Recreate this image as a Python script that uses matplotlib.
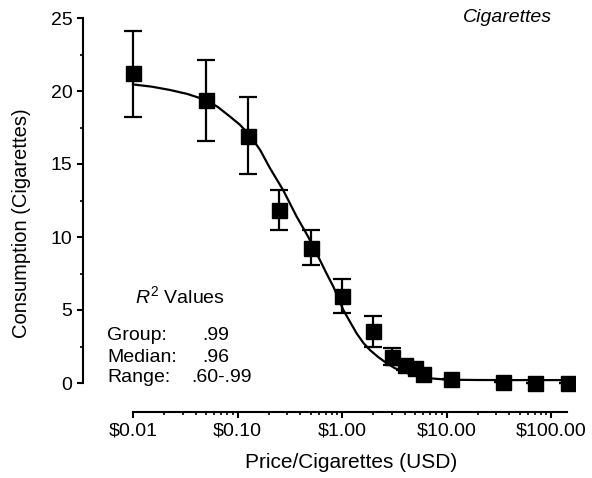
import numpy as np
import matplotlib
matplotlib.use("Agg")
import matplotlib.pyplot as plt

plt.rcParams['font.family'] = ['Liberation Sans', 'DejaVu Sans']
plt.rcParams['mathtext.fontset'] = 'custom'
plt.rcParams['mathtext.rm'] = 'Liberation Sans'
plt.rcParams['mathtext.it'] = 'Liberation Sans:italic'

# observed consumption (mean +/- error) at each price
price = [0.01, 0.05, 0.125, 0.25, 0.5, 1.0, 2.0, 3.0, 4.0, 5.0, 6.0, 11.0, 35.0, 70.0, 145.0]
consumption = [21.2, 19.35, 16.95, 11.85, 9.25, 5.95, 3.55, 1.8, 1.2, 1.0, 0.65, 0.27, 0.05, 0.02, 0.0]
err_up = [2.9, 2.75, 2.65, 1.35, 1.25, 1.15, 1.05, 0.6, 0.3, 0.2, 0.1, 0.0, 0.0, 0.0, 0.0]
err_down = [2.95, 2.75, 2.65, 1.35, 1.15, 1.15, 1.05, 0.6, 0.3, 0.2, 0.1, 0.0, 0.0, 0.0, 0.0]

# fitted demand curve
curve_x = [0.01, 0.015, 0.0226, 0.033, 0.05, 0.065, 0.085, 0.105, 0.132, 0.165,
           0.205, 0.274, 0.368, 0.476, 0.593, 0.7, 0.826, 1.03, 1.18, 1.38,
           1.6, 1.85, 2.2, 2.68, 3.2, 3.87, 4.6, 5.57, 7.0, 9.3,
           12, 20, 40, 148]
curve_y = [20.45, 20.3, 20.07, 19.8, 19.38, 18.9, 18.24, 17.7, 16.95, 15.95,
           14.7, 13.2, 11.4, 10.0, 8.65, 7.6, 6.6, 5.0, 4.25, 3.4,
           2.75, 2.26, 1.8, 1.35, 1.02, 0.77, 0.58, 0.43, 0.32, 0.25,
           0.22, 0.205, 0.2, 0.2]

xtick_vals = [0.01, 0.1, 1, 10, 100]
xtick_labels = [r"\$0.01", r"\$0.10", r"\$1.00", r"\$10.00", r"\$100.00"]

stats_names = ["Group:", "Median:", "Range:"]
stats_vals = [".99", ".96", ".60-.99"]

fig = plt.figure(figsize=(5.92, 4.78), dpi=100)
ax = fig.add_axes([83 / 592, 66 / 478, 492 / 592, 402 / 478])

ax.plot(curve_x, curve_y, color='black', lw=1.6, zorder=2)
ax.errorbar(price, consumption, yerr=[err_down, err_up], fmt='s', color='black',
            ms=10.8, elinewidth=1.6, capsize=6.5, capthick=1.6, zorder=3)

ax.set_xscale('log')
ax.set_xlim(10 ** (-2 - 50 / 104.5), 10 ** (-2 + 442 / 104.5))
ax.set_ylim((383 - 412) / 14.6, (383 - 10) / 14.6)

for s in ['top', 'right']:
    ax.spines[s].set_visible(False)
ax.spines['left'].set_bounds(0, 25)
ax.spines['bottom'].set_bounds(0.01, 142)
for s in ['left', 'bottom']:
    ax.spines[s].set_linewidth(1.5)

ax.set_yticks([0, 5, 10, 15, 20, 25])
ax.set_yticks([2.5, 7.5, 12.5, 17.5, 22.5], minor=True)
ax.set_xticks(xtick_vals)
ax.set_xticklabels(xtick_labels)
minor = [m * 10.0 ** d for d in range(-2, 3) for m in range(2, 10) if m * 10.0 ** d <= 142]
ax.set_xticks(minor, minor=True)
ax.xaxis.set_minor_formatter(plt.NullFormatter())

ax.tick_params(which='major', direction='out', length=4.5, width=1.5, labelsize=14, pad=3)
ax.tick_params(which='minor', direction='out', length=2.5, width=1.2)

ax.set_xlabel("Price/Cigarettes (USD)", fontsize=15)
ax.set_ylabel("Consumption (Cigarettes)", fontsize=14.5)
ax.xaxis.label.set_va('center')
ax.yaxis.label.set_va('center')
ax.xaxis.set_label_coords((351 - 83) / 492, (412 - 463) / 402)
ax.yaxis.set_label_coords((22 - 83) / 492, (412 - 223) / 402)

ax.text(0.953, (412 - 17) / 402, "Cigarettes", transform=ax.transAxes, ha='right', va='center',
        fontsize=14, style='italic')
ax.text((135 - 83) / 492, (412 - 296) / 402, r"$\mathit{R}^{2}$ Values", transform=ax.transAxes,
        ha='left', va='center', fontsize=14)
rows_y = [335, 357, 378]
vals_x = [202, 202, 191]
for name, val, py, vx in zip(stats_names, stats_vals, rows_y, vals_x):
    yy = (412 - py) / 402
    ax.text((107 - 83) / 492, yy, name, transform=ax.transAxes, ha='left', va='center', fontsize=14)
    ax.text((vx - 83) / 492, yy, val, transform=ax.transAxes, ha='left', va='center', fontsize=14)

fig.savefig("out.png", dpi=100)
